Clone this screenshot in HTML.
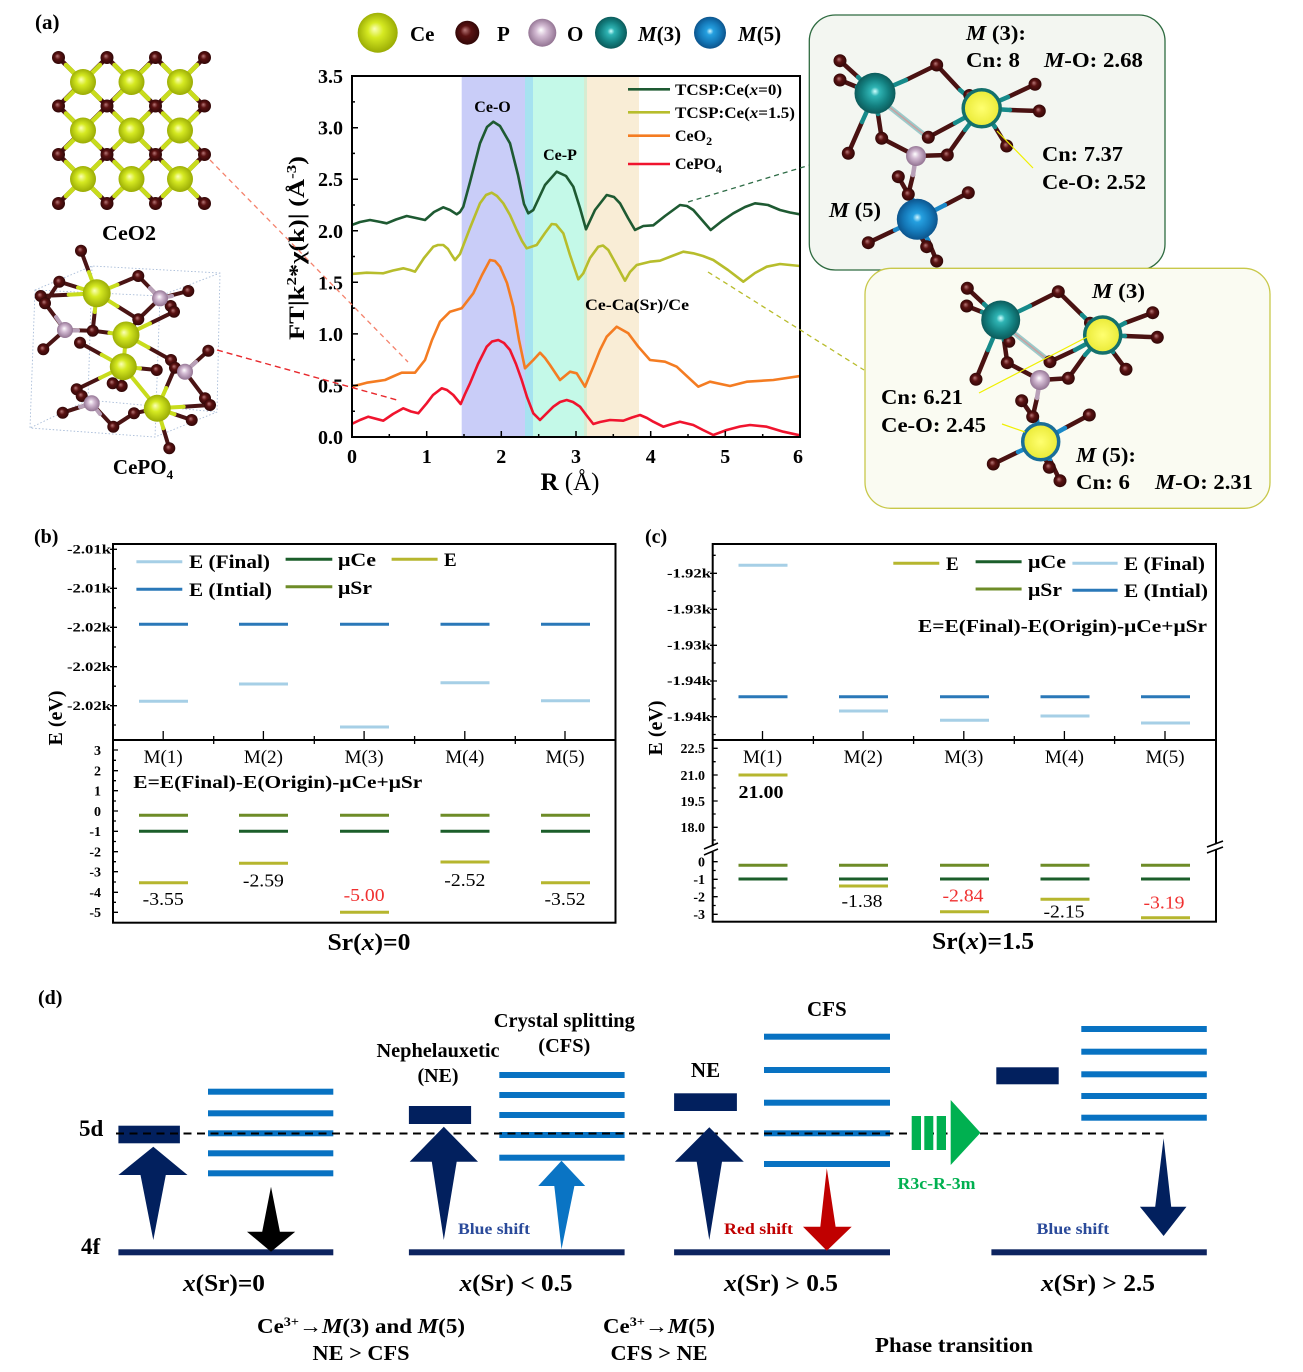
<!DOCTYPE html>
<html><head><meta charset="utf-8">
<style>
html,body{margin:0;padding:0;background:#fff}
svg{display:block}
text{font-family:"Liberation Serif","DejaVu Serif",serif}
</style></head>
<body>
<svg width="1303" height="1372" viewBox="0 0 1303 1372" xmlns="http://www.w3.org/2000/svg">
<defs>
 <radialGradient id="gCe" cx="0.5" cy="0.5" r="0.55" fx="0.42" fy="0.4">
  <stop offset="0" stop-color="#fbffb8"/><stop offset="0.35" stop-color="#d6ea22"/><stop offset="1" stop-color="#92a300"/>
 </radialGradient>
 <radialGradient id="gP" cx="0.5" cy="0.5" r="0.55" fx="0.4" fy="0.38">
  <stop offset="0" stop-color="#b87878"/><stop offset="0.4" stop-color="#5a1212"/><stop offset="1" stop-color="#2a0505"/>
 </radialGradient>
 <radialGradient id="gO" cx="0.5" cy="0.5" r="0.55" fx="0.45" fy="0.4">
  <stop offset="0" stop-color="#ffffff"/><stop offset="0.35" stop-color="#d4bcd4"/><stop offset="1" stop-color="#8a6a8a"/>
 </radialGradient>
 <radialGradient id="gM3" cx="0.5" cy="0.5" r="0.55" fx="0.5" fy="0.45">
  <stop offset="0" stop-color="#d0ffff"/><stop offset="0.2" stop-color="#2fb4b4"/><stop offset="0.6" stop-color="#138080"/><stop offset="1" stop-color="#0a5050"/>
 </radialGradient>
 <radialGradient id="gM5" cx="0.5" cy="0.5" r="0.55" fx="0.5" fy="0.45">
  <stop offset="0" stop-color="#d0f6ff"/><stop offset="0.2" stop-color="#25a0e0"/><stop offset="0.6" stop-color="#1478b8"/><stop offset="1" stop-color="#0a4a80"/>
 </radialGradient>
 <radialGradient id="gY" cx="0.5" cy="0.5" r="0.55">
  <stop offset="0" stop-color="#ffff70"/><stop offset="1" stop-color="#e8e830"/>
 </radialGradient>
 <clipPath id="plotclip"><rect x="352" y="76" width="448" height="361"/></clipPath>
</defs>

<!-- ============ PANEL (a) ============ -->
<text x="35" y="29" font-size="21" font-weight="bold">(a)</text>

<!-- CeO2 crystal -->
<g stroke-width="4.5" stroke-linecap="round">
 <g stroke="#4a1212">
  <path d="M58.5,57.5L204.5,203.5M107,57.5L204.5,155M155.5,57.5L204.5,106.5M58.5,106L156,203.5M58.5,154.5L107.5,203.5M204.5,57.5L58.5,203.5M155.5,57.5L58.5,154.5M107,57.5L58.5,106M204.5,106L107,203.5M204.5,154.5L155.5,203.5"/>
 </g>
 <g stroke="#c8dc1c">
  <path d="M66,65L100,99M100,65L66,99 M114.5,65L148.5,99M148.5,65L114.5,99 M163,65L197,99M197,65L163,99
  M66,113.5L100,147.5M100,113.5L66,147.5 M114.5,113.5L148.5,147.5M148.5,113.5L114.5,147.5 M163,113.5L197,147.5M197,113.5L163,147.5
  M66,162L100,196M100,162L66,196 M114.5,162L148.5,196M148.5,162L114.5,196 M163,162L197,196M197,162L163,196"/>
 </g>
</g>
<g fill="url(#gP)">
 <circle cx="58.5" cy="57.5" r="6.5"/><circle cx="107" cy="57.5" r="6.5"/><circle cx="155.5" cy="57.5" r="6.5"/><circle cx="204.5" cy="57.5" r="6.5"/>
 <circle cx="58.5" cy="106" r="6.5"/><circle cx="107" cy="106" r="6.5"/><circle cx="155.5" cy="106" r="6.5"/><circle cx="204.5" cy="106" r="6.5"/>
 <circle cx="58.5" cy="154.5" r="6.5"/><circle cx="107" cy="154.5" r="6.5"/><circle cx="155.5" cy="154.5" r="6.5"/><circle cx="204.5" cy="154.5" r="6.5"/>
 <circle cx="58.5" cy="203.5" r="6.5"/><circle cx="107" cy="203.5" r="6.5"/><circle cx="155.5" cy="203.5" r="6.5"/><circle cx="204.5" cy="203.5" r="6.5"/>
</g>
<g fill="url(#gCe)">
 <circle cx="83" cy="82" r="13"/><circle cx="131.5" cy="82" r="13"/><circle cx="180" cy="82" r="13"/>
 <circle cx="83" cy="130.5" r="13"/><circle cx="131.5" cy="130.5" r="13"/><circle cx="180" cy="130.5" r="13"/>
 <circle cx="83" cy="179" r="13"/><circle cx="131.5" cy="179" r="13"/><circle cx="180" cy="179" r="13"/>
</g>
<text x="129" y="240" font-size="21" font-weight="bold" text-anchor="middle" textLength="54" lengthAdjust="spacingAndGlyphs">CeO2</text>

<!-- CePO4 crystal -->
<g stroke="#a8bcd8" stroke-width="0.9" stroke-dasharray="1.5 2" fill="none">
 <path d="M35,290L92,266L220,273L217,412L155,437L30,428Z M35,290L160,296L155,437 M160,296L220,273 M92,266L88,400L30,428 M88,400L217,412"/>
</g>
<g stroke-width="4" stroke-linecap="round">
 <g stroke="#4a1414">
  <path d="M88.9,272L81,250.7M78,287.5L59.3,281.7M117.5,284.7L138.3,276M68.7,294.7L40.7,296M117.5,306.3L138.3,319.3M94.7,312L92.7,330.7
  M109.4,332.9L92.7,330.7M148.5,347.5L171,360M150,323.4L174,311.7M132.2,327.2L138.3,319.3
  M101.7,354.7L80,342.7M100,378L76.7,389.3M122.5,376.4L121.7,386M140,368.4L156.7,370
  M145.7,410.8L134,413.3M174.5,414.2L191.7,420M183.7,406.7L210,405M163.3,428.3L169.3,448.3M166.2,388L175,367.7
  M160,298.3L138.3,276M160,298.3L188.3,291M160,298.3L170.7,306M160,298.3L138.3,319.3
  M65,330L45,303.3M65,330L43.3,349.3M65,330L92.7,330.7M45,303.3L59.3,281.7
  M185,371.7L208.3,350.7M185,371.7L171,360M185,371.7L205,398.3M185,371.7L175,367.7
  M91.7,403.3L62.7,412.7M91.7,403.3L81.7,396M91.7,403.3L113.3,426.7M134,413.3L113.3,426.7M121.7,386L112.7,383.3M210,405L205,398.3"/>
 </g>
 <g stroke="#c8dc1c">
  <path d="M96.7,293.3L88.9,272M96.7,293.3L78,287.5M96.7,293.3L117.5,284.7M96.7,293.3L68.7,294.7M96.7,293.3L117.5,306.3M96.7,293.3L94.7,312
  M126,335L109.4,332.9M126,335L148.5,347.5M126,335L150,323.4M126,335L132.2,327.2M126,335L123.3,366.7
  M123.3,366.7L101.7,354.7M123.3,366.7L100,378M123.3,366.7L122.5,376.4M123.3,366.7L140,368.4M123.3,366.7L157.3,408.3
  M157.3,408.3L145.7,410.8M157.3,408.3L174.5,414.2M157.3,408.3L183.7,406.7M157.3,408.3L163.3,428.3M157.3,408.3L166.2,388"/>
 </g>
 <g stroke="#b8a0b8">
  <path d="M160,298.3L150,288M160,298.3L172,296M65,330L56,317M65,330L78,330.5M185,371.7L196,362M185,371.7L178,366M91.7,403.3L80,407M91.7,403.3L100,414"/>
 </g>
</g>
<g fill="url(#gP)">
 <circle cx="81" cy="250.7" r="6"/><circle cx="59.3" cy="281.7" r="6"/><circle cx="40.7" cy="296" r="6"/><circle cx="45" cy="303.3" r="6"/>
 <circle cx="138.3" cy="276" r="6"/><circle cx="188.3" cy="291" r="6"/><circle cx="170.7" cy="306" r="6"/><circle cx="174" cy="311.7" r="6"/>
 <circle cx="138.3" cy="319.3" r="6"/><circle cx="92.7" cy="330.7" r="6"/><circle cx="80" cy="342.7" r="6"/><circle cx="43.3" cy="349.3" r="6"/>
 <circle cx="208.3" cy="350.7" r="6"/><circle cx="171" cy="360" r="6"/><circle cx="175" cy="367.7" r="6"/><circle cx="156.7" cy="370" r="6"/>
 <circle cx="121.7" cy="386" r="6"/><circle cx="76.7" cy="389.3" r="6"/><circle cx="81.7" cy="396" r="6"/><circle cx="112.7" cy="383.3" r="6"/>
 <circle cx="62.7" cy="412.7" r="6"/><circle cx="205" cy="398.3" r="6"/><circle cx="210" cy="405" r="6"/><circle cx="191.7" cy="420" r="6"/>
 <circle cx="134" cy="413.3" r="6"/><circle cx="113.3" cy="426.7" r="6"/><circle cx="169.3" cy="448.3" r="6"/>
</g>
<g fill="url(#gO)">
 <circle cx="160" cy="298.3" r="8"/><circle cx="65" cy="330" r="8"/><circle cx="185" cy="371.7" r="8"/><circle cx="91.7" cy="403.3" r="8"/>
</g>
<g fill="url(#gCe)">
 <circle cx="96.7" cy="293.3" r="14"/><circle cx="126" cy="335" r="13.5"/><circle cx="123.3" cy="366.7" r="13.5"/><circle cx="157.3" cy="408.3" r="13.5"/>
</g>
<text x="143" y="474" font-size="21" font-weight="bold" text-anchor="middle">CePO<tspan font-size="13" dy="5">4</tspan></text>

<!-- top atom legend -->
<circle cx="377.7" cy="32.7" r="20" fill="url(#gCe)"/>
<text x="410" y="41" font-size="21" font-weight="bold">Ce</text>
<circle cx="467.3" cy="32.7" r="12" fill="url(#gP)"/>
<text x="497" y="41" font-size="21" font-weight="bold">P</text>
<circle cx="542.3" cy="32.7" r="14" fill="url(#gO)"/>
<text x="567" y="41" font-size="21" font-weight="bold">O</text>
<circle cx="611" cy="32.7" r="16" fill="url(#gM3)"/>
<text x="638" y="41" font-size="21" font-weight="bold"><tspan font-style="italic">M</tspan>(3)</text>
<circle cx="710" cy="32.7" r="16" fill="url(#gM5)"/>
<text x="738" y="41" font-size="21" font-weight="bold"><tspan font-style="italic">M</tspan>(5)</text>

<!-- plot bands -->
<rect x="461.7" y="76" width="63.3" height="361" fill="#c9cdf8"/>
<rect x="525" y="76" width="8" height="361" fill="#a6e2f0"/>
<rect x="533" y="76" width="51" height="361" fill="#c4f9e8"/>
<rect x="584" y="76" width="3" height="361" fill="#d6ecd2"/>
<rect x="587" y="76" width="52" height="361" fill="#f9edd6"/>

<g clip-path="url(#plotclip)" fill="none" stroke-width="2.6" stroke-linejoin="round" stroke-linecap="round">
 <polyline stroke="#1e5a32" points="351.7,225 360,222 370,220 378,221.5 386.7,223.3 396,219.5 406.7,216 416,218 425,220 434,212 443.3,207.3 450,210 456.7,214.3 460,212 463.3,206.7 470,182 480,143.3 487,127 493.3,121.7 500,126 510,143.3 518,175 524,204 528.3,213.3 533.3,210 545,185 556.7,171.7 566,176 573.3,186.7 580,208 586,229.3 595,210 606.7,195 614,197 620,203.3 628,218 635,230 643.3,226 653.3,225.3 665,216 680,205 687,206 693.3,210 702,220 710.7,230 722,221 733.3,213.3 745,207 755,203.3 768,205 780,210 790,212.5 800,214.3"/>
 <polyline stroke="#b7bd2c" points="351.7,274 366.7,272.7 383.3,273.3 393,270.5 403.3,268.3 410,270 415,271.7 424,258 433.3,246.7 438,245 443.3,245 448,249 451.7,255 455,260 460,254 470,228 480,203.3 486,195 491.7,192.7 497,196 503.3,203.3 510,215 516.7,230 522,241 526.7,248.3 536.7,245 545,233 551.7,224 556,224.5 563.3,233.3 570,255 578.3,279.3 583.3,273.3 590,258 598.3,246.7 603,245.5 608.3,250 616,264 625,280.7 630,272 636.7,265 650,261.7 660,260.7 672,256 683.3,251.7 693.3,253.3 703,256 713.3,260 728,270 743.3,281.7 755,273 766.7,266.7 780,264 800,266"/>
 <polyline stroke="#f47c22" points="351.7,386.7 366.7,382.7 385,380 394,376 401.7,372.7 415,372.7 425,360 432,340 440,321.7 450,311.7 461.7,308.3 473.3,293.3 482,275 490,260 495,261 500,266.7 507,283 513.3,306.7 519,340 525,368.3 533.3,360 540,352.7 545,358 550,365 560,380 570,371.7 576.7,373.3 585,386.7 593.3,366.7 600,350 606.7,336.7 616.7,326.7 628.3,333.3 638.3,346.7 650,360 665,361.7 676.7,366.7 698.3,386.7 710,381.7 730,386 746.7,381.7 773.3,380 800,376"/>
 <polyline stroke="#f0142e" points="351.7,424 360,420 368.3,416.7 383.3,420.7 393,414 403.3,408.3 411,411.5 418.3,413.3 426.7,403.3 433,395 441.7,388.3 447,390 453.3,395 460.7,404 465,394 470,383.3 478,364 486.7,346.7 492,341.5 498.3,340 504,343 510,350 516,364 521.7,380 527,397 533.3,413.3 540,420 553.3,406.7 560,402 566.7,400 573,402 580,406.7 587,416 593.3,424 600,422 610,420 623.3,420.7 632,417.5 640,415 647,418 653.3,421.7 663.3,426.7 672,424 680,421.7 693.3,425 703,430 713.3,435 726.7,430 740,426.5 750,425 766.7,426.7 783.3,431.7 800,435.3"/>
</g>

<!-- frame & ticks -->
<rect x="352" y="76" width="448" height="361" fill="none" stroke="#000" stroke-width="2"/>
<g stroke="#000" stroke-width="1.5">
 <path d="M352,385.4h6M352,333.9h6M352,282.3h6M352,230.8h6M352,179.2h6M352,127.7h6
 M352,411.2h3M352,359.6h3M352,308.1h3M352,256.5h3M352,205h3M352,153.4h3M352,101.9h3
 M426.7,437v-6M501.3,437v-6M576,437v-6M650.7,437v-6M725.3,437v-6
 M389.3,437v-3M464,437v-3M538.7,437v-3M613.3,437v-3M688,437v-3M762.7,437v-3"/>
</g>
<g font-size="20" font-weight="bold" text-anchor="end">
 <text x="343" y="444">0.0</text><text x="343" y="392.4">0.5</text><text x="343" y="341">1.0</text><text x="343" y="289.3">1.5</text>
 <text x="343" y="237.8">2.0</text><text x="343" y="186.2">2.5</text><text x="343" y="134.7">3.0</text><text x="343" y="83.1">3.5</text>
</g>
<g font-size="20" font-weight="bold" text-anchor="middle">
 <text x="352" y="463">0</text><text x="426.7" y="463">1</text><text x="501.3" y="463">2</text><text x="576" y="463">3</text>
 <text x="650.7" y="463">4</text><text x="725.3" y="463">5</text><text x="798" y="463">6</text>
</g>
<text x="570" y="490" font-size="25" text-anchor="middle"><tspan font-weight="bold">R</tspan> (Å)</text>
<text transform="translate(304,248) rotate(-90)" font-size="22" font-weight="bold" text-anchor="middle" textLength="184" lengthAdjust="spacingAndGlyphs">FT|k<tspan font-size="14" dy="-8">2</tspan><tspan dy="8">*χ(k)| (Å</tspan><tspan font-size="14" dy="-8">-3</tspan><tspan dy="8">)</tspan></text>

<g font-size="16" font-weight="bold">
 <text x="492.5" y="112" text-anchor="middle">Ce-O</text>
 <text x="560" y="160" text-anchor="middle">Ce-P</text>
 <text x="637" y="310" text-anchor="middle" textLength="104" lengthAdjust="spacingAndGlyphs">Ce-Ca(Sr)/Ce</text>
</g>
<!-- legend -->
<g stroke-width="2.6">
 <line x1="628" y1="89.3" x2="670" y2="89.3" stroke="#1e5a32"/>
 <line x1="628" y1="112.3" x2="670" y2="112.3" stroke="#b7bd2c"/>
 <line x1="628" y1="135.7" x2="670" y2="135.7" stroke="#f47c22"/>
 <line x1="628" y1="164" x2="670" y2="164" stroke="#f0142e"/>
</g>
<g font-size="16" font-weight="bold">
 <text x="675" y="95" textLength="107" lengthAdjust="spacingAndGlyphs">TCSP:Ce(<tspan font-style="italic">x</tspan>=0)</text>
 <text x="675" y="118" textLength="120" lengthAdjust="spacingAndGlyphs">TCSP:Ce(<tspan font-style="italic">x</tspan>=1.5)</text>
 <text x="675" y="141">CeO<tspan font-size="12" dy="4">2</tspan></text>
 <text x="675" y="169">CePO<tspan font-size="12" dy="4">4</tspan></text>
</g>

<!-- connectors -->
<line x1="210" y1="160" x2="408" y2="362" stroke="#f4826c" stroke-width="1.3" stroke-dasharray="5 4"/>
<line x1="217" y1="350" x2="397" y2="400" stroke="#e8282c" stroke-width="1.4" stroke-dasharray="6 4"/>
<line x1="688" y1="202" x2="810" y2="165" stroke="#2d6b45" stroke-width="1.3" stroke-dasharray="5 4"/>
<line x1="708" y1="272" x2="864" y2="370" stroke="#b8bc2c" stroke-width="1.3" stroke-dasharray="5 4"/>

<!-- inset 1 -->
<rect x="809.3" y="15" width="355.7" height="255" rx="26" fill="#f3f6f1" stroke="#2e6b40" stroke-width="1.3"/>
<g stroke-width="4.5" stroke-linecap="round">
 <g stroke="#4a1212">
  <path d="M840,60.7L858,77M840,80L857,87M936.7,65L906,80M848.3,153.3L862,122M881.7,138.3L878,114M936.7,65L960,90M1035,84.3L1008,97M1039.3,111L1010,110M928.3,137.3L955,123M947.3,155L965,130M1006.7,146L995,127M881.7,138.3L916,156M947.3,155L916,156M898.3,176.7L908.3,194.3M908.3,194.3L913,175M968.3,192.7L945,205M868.3,242.7L895,230M926.7,246.7L920,235M936.7,261L928,240"/>
 </g>
 <g stroke="#168a8a">
  <path d="M875,93.3L858,77M875,93.3L857,87M875,93.3L906,80M875,93.3L862,122M875,93.3L878,114M981.7,108.3L960,90M981.7,108.3L1008,97M981.7,108.3L1010,110M981.7,108.3L955,123M981.7,108.3L965,130M981.7,108.3L995,127"/>
 </g>
 <g stroke="#1a88c8">
  <path d="M917.3,219.3L945,205M917.3,219.3L895,230M917.3,219.3L920,235M917.3,219.3L928,240M917.3,219.3L913,200"/>
 </g>
 <g stroke="#b8a0b8"><path d="M916,156L913,175"/></g>
</g>
<line x1="878" y1="98" x2="926" y2="136" stroke="#9ccaca" stroke-width="5"/>
<line x1="878" y1="98" x2="926" y2="136" stroke="#c8a0a0" stroke-width="1.5"/>
<g fill="url(#gP)">
 <circle cx="840" cy="60.7" r="6.5"/><circle cx="840" cy="80" r="6.5"/><circle cx="936.7" cy="65" r="6.5"/><circle cx="1035" cy="84.3" r="6.5"/>
 <circle cx="1039.3" cy="111" r="6.5"/><circle cx="848.3" cy="153.3" r="6.5"/><circle cx="881.7" cy="138.3" r="6.5"/><circle cx="928.3" cy="137.3" r="6.5"/>
 <circle cx="947.3" cy="155" r="6.5"/><circle cx="1006.7" cy="146" r="6.5"/><circle cx="898.3" cy="176.7" r="6.5"/><circle cx="908.3" cy="194.3" r="6.5"/>
 <circle cx="968.3" cy="192.7" r="6.5"/><circle cx="868.3" cy="242.7" r="6.5"/><circle cx="926.7" cy="246.7" r="6.5"/><circle cx="936.7" cy="261" r="6.5"/>
 <circle cx="969.3" cy="95" r="6"/>
</g>
<circle cx="875" cy="93.3" r="20.5" fill="url(#gM3)"/>
<circle cx="981.7" cy="108.3" r="18.5" fill="url(#gY)" stroke="#14706c" stroke-width="3.5"/>
<circle cx="916" cy="156" r="10" fill="url(#gO)"/>
<circle cx="917.3" cy="219.3" r="20.5" fill="url(#gM5)"/>
<line x1="997" y1="131" x2="1033" y2="168" stroke="#f0f000" stroke-width="1.2"/>
<g font-size="21" font-weight="bold">
 <text x="966" y="40" textLength="60" lengthAdjust="spacingAndGlyphs"><tspan font-style="italic">M</tspan> (3):</text>
 <text x="966" y="67" textLength="54" lengthAdjust="spacingAndGlyphs">Cn: 8</text>
 <text x="1044" y="67" textLength="99" lengthAdjust="spacingAndGlyphs"><tspan font-style="italic">M</tspan>-O: 2.68</text>
 <text x="1042" y="161" textLength="81" lengthAdjust="spacingAndGlyphs">Cn: 7.37</text>
 <text x="1042" y="189" textLength="104" lengthAdjust="spacingAndGlyphs">Ce-O: 2.52</text>
 <text x="829" y="217" textLength="52" lengthAdjust="spacingAndGlyphs"><tspan font-style="italic">M</tspan> (5)</text>
</g>

<!-- inset 2 -->
<rect x="865" y="268.3" width="405" height="240" rx="26" fill="#fafbf2" stroke="#c8c84a" stroke-width="1.3"/>
<g stroke-width="4.5" stroke-linecap="round">
 <g stroke="#4a1212">
  <path d="M967.3,288.3L984,304M966.7,306L982,312M1058.3,291.7L1030,306M1058.3,291.7L1082,315M1152.7,312.7L1125,323M1157.3,337.3L1125,336M1007.3,362.7L1004,340M976,379.3L988,350M1050,361.7L1075,350M1068.3,378.3L1085,355M1126,369.3L1113,352M1068.3,378.3L1040,380M1007.3,362.7L1040,380M1021.7,400.7L1032.7,416.7M1032.7,416.7L1037,398M1089.3,415L1065,428M993.3,464L1018,452M1049.3,467.3L1045,458M1060,480.7L1050,460"/>
 </g>
 <g stroke="#168a8a">
  <path d="M1000.7,320L984,304M1000.7,320L982,312M1000.7,320L1030,306M1000.7,320L988,350M1000.7,320L1004,340M1102.7,335L1082,315M1102.7,335L1125,323M1102.7,335L1125,336M1102.7,335L1075,350M1102.7,335L1085,355M1102.7,335L1113,352"/>
 </g>
 <g stroke="#1a88c8">
  <path d="M1040.7,441.7L1065,428M1040.7,441.7L1018,452M1040.7,441.7L1045,458M1040.7,441.7L1050,460M1040.7,441.7L1037,420"/>
 </g>
 <g stroke="#b8a0b8"><path d="M1040,380L1037,398"/></g>
</g>
<line x1="1004" y1="325" x2="1048" y2="360" stroke="#9ccaca" stroke-width="5"/>
<line x1="1004" y1="325" x2="1048" y2="360" stroke="#c8a0a0" stroke-width="1.5"/>
<g fill="url(#gP)">
 <circle cx="967.3" cy="288.3" r="6.5"/><circle cx="966.7" cy="306" r="6.5"/><circle cx="1058.3" cy="291.7" r="6.5"/><circle cx="1152.7" cy="312.7" r="6.5"/>
 <circle cx="1157.3" cy="337.3" r="6.5"/><circle cx="1007.3" cy="362.7" r="6.5"/><circle cx="1050" cy="361.7" r="6.5"/><circle cx="976" cy="379.3" r="6.5"/>
 <circle cx="1068.3" cy="378.3" r="6.5"/><circle cx="1126" cy="369.3" r="6.5"/><circle cx="1021.7" cy="400.7" r="6.5"/><circle cx="1032.7" cy="416.7" r="6.5"/>
 <circle cx="1089.3" cy="415" r="6.5"/><circle cx="993.3" cy="464" r="6.5"/><circle cx="1049.3" cy="467.3" r="6.5"/><circle cx="1060" cy="480.7" r="6.5"/>
 <circle cx="1090" cy="322.7" r="6"/><circle cx="1009.3" cy="341.7" r="6"/>
</g>
<circle cx="1000.7" cy="320" r="19.5" fill="url(#gM3)"/>
<circle cx="1102.7" cy="335" r="18" fill="url(#gY)" stroke="#14706c" stroke-width="3.5"/>
<circle cx="1040" cy="380" r="10" fill="url(#gO)"/>
<circle cx="1040.7" cy="441.7" r="18" fill="url(#gY)" stroke="#1a6e98" stroke-width="3.5"/>
<line x1="979" y1="393" x2="1087" y2="337" stroke="#f0f000" stroke-width="1.2"/>
<line x1="1002" y1="424" x2="1025" y2="432" stroke="#f0f000" stroke-width="1.2"/>
<g font-size="21" font-weight="bold">
 <text x="1092" y="298" textLength="53" lengthAdjust="spacingAndGlyphs"><tspan font-style="italic">M</tspan> (3)</text>
 <text x="881" y="404" textLength="82" lengthAdjust="spacingAndGlyphs">Cn: 6.21</text>
 <text x="881" y="432" textLength="105" lengthAdjust="spacingAndGlyphs">Ce-O: 2.45</text>
 <text x="1076" y="462" textLength="60" lengthAdjust="spacingAndGlyphs"><tspan font-style="italic">M</tspan> (5):</text>
 <text x="1076" y="489" textLength="54" lengthAdjust="spacingAndGlyphs">Cn: 6</text>
 <text x="1155" y="489" textLength="98" lengthAdjust="spacingAndGlyphs"><tspan font-style="italic">M</tspan>-O: 2.31</text>
</g>

<!-- ============ PANEL (b) ============ -->
<text x="34" y="543" font-size="20" font-weight="bold">(b)</text>
<rect x="113" y="544" width="502.5" height="378.7" fill="none" stroke="#000" stroke-width="2"/>
<line x1="113" y1="740" x2="615.5" y2="740" stroke="#000" stroke-width="2"/>
<g stroke="#000" stroke-width="1.3">
 <path d="M110,549.3h7M110,588.3h7M110,627.3h7M110,666.7h7M110,705.7h7M113,568.8h3M113,607.8h3M113,647h3M113,686.2h3M113,725h3
 M113,750h5M113,770.7h5M113,790.7h5M113,811h5M113,831.3h5M113,851.7h5M113,871.7h5M113,892.3h5M113,912.3h5
 M113,760.3h3M113,780.7h3M113,801h3M113,821h3M113,841.5h3M113,861.7h3M113,882h3M113,902.3h3
 M163.2,740v-9M263.4,740v-9M364.1,740v-9M464.8,740v-9M565,740v-9
 M213.7,736v8M314.3,736v8M414.6,736v8M515.3,736v8"/>
</g>
<g font-size="13" font-weight="bold" text-anchor="end">
 <text x="111" y="553.5" textLength="44" lengthAdjust="spacingAndGlyphs">-2.01k</text>
 <text x="111" y="592.5" textLength="44" lengthAdjust="spacingAndGlyphs">-2.01k</text>
 <text x="111" y="631.5" textLength="44" lengthAdjust="spacingAndGlyphs">-2.02k</text>
 <text x="111" y="671" textLength="44" lengthAdjust="spacingAndGlyphs">-2.02k</text>
 <text x="111" y="710" textLength="44" lengthAdjust="spacingAndGlyphs">-2.02k</text>
</g>
<g font-size="14" font-weight="bold" text-anchor="end">
 <text x="101" y="755">3</text><text x="101" y="775.5">2</text><text x="101" y="795.5">1</text><text x="101" y="816">0</text>
 <text x="101" y="836">-1</text><text x="101" y="856.5">-2</text><text x="101" y="876.5">-3</text><text x="101" y="897">-4</text><text x="101" y="917">-5</text>
</g>
<text transform="translate(62,718) rotate(-90)" font-size="20" font-weight="bold" text-anchor="middle">E (eV)</text>
<g font-size="19" text-anchor="middle">
 <text x="163.2" y="763">M(1)</text><text x="263.4" y="763">M(2)</text><text x="364.1" y="763">M(3)</text><text x="464.8" y="763">M(4)</text><text x="565" y="763">M(5)</text>
</g>
<!-- legend b -->
<g stroke-width="3">
 <line x1="136.4" y1="561.7" x2="182.3" y2="561.7" stroke="#a6cfe6"/>
 <line x1="136.4" y1="589.3" x2="182.3" y2="589.3" stroke="#2a78b8"/>
 <line x1="285.6" y1="559.3" x2="332.3" y2="559.3" stroke="#1b5e2a"/>
 <line x1="285.6" y1="586.7" x2="332.3" y2="586.7" stroke="#6e8c28"/>
 <line x1="391.6" y1="559.3" x2="437.6" y2="559.3" stroke="#b6b62e"/>
</g>
<g font-size="19" font-weight="bold">
 <text x="189" y="568" textLength="81" lengthAdjust="spacingAndGlyphs">E (Final)</text>
 <text x="189" y="596" textLength="83" lengthAdjust="spacingAndGlyphs">E (Intial)</text>
 <text x="338" y="566" textLength="38" lengthAdjust="spacingAndGlyphs">μCe</text>
 <text x="338" y="594" textLength="34" lengthAdjust="spacingAndGlyphs">μSr</text>
 <text x="444" y="566">E</text>
</g>
<text x="133.3" y="788" font-size="18" font-weight="bold" textLength="289" lengthAdjust="spacingAndGlyphs">E=E(Final)-E(Origin)-μCe+μSr</text>
<g stroke-width="3">
 <g stroke="#2a78b8"><path d="M139,624.3h49M239,624.3h49M340,624.3h49M440.5,624.3h49M541,624.3h49"/></g>
 <g stroke="#a6cfe6"><path d="M139,701.3h49M239,684h49M340,727h49M440.5,682.7h49M541,700.7h49"/></g>
 <g stroke="#6e8c28"><path d="M139,815.3h49M239,815.3h49M340,815.3h49M440.5,815.3h49M541,815.3h49"/></g>
 <g stroke="#1b5e2a"><path d="M139,831.3h49M239,831.3h49M340,831.3h49M440.5,831.3h49M541,831.3h49"/></g>
 <g stroke="#b6b62e"><path d="M139,882.7h49M239,863.3h49M340,912.3h49M440.5,862h49M541,882.7h49"/></g>
</g>
<g font-size="18" text-anchor="middle">
 <text x="163.2" y="905" textLength="41" lengthAdjust="spacingAndGlyphs">-3.55</text>
 <text x="263.4" y="886.5" textLength="41" lengthAdjust="spacingAndGlyphs">-2.59</text>
 <text x="364.1" y="901" fill="#f03030" textLength="41" lengthAdjust="spacingAndGlyphs">-5.00</text>
 <text x="464.8" y="886" textLength="41" lengthAdjust="spacingAndGlyphs">-2.52</text>
 <text x="565" y="905" textLength="41" lengthAdjust="spacingAndGlyphs">-3.52</text>
</g>
<text x="369" y="950" font-size="24" font-weight="bold" text-anchor="middle" textLength="83" lengthAdjust="spacingAndGlyphs">Sr(<tspan font-style="italic">x</tspan>)=0</text>

<!-- ============ PANEL (c) ============ -->
<text x="645" y="543" font-size="20" font-weight="bold">(c)</text>
<rect x="712.7" y="544" width="503.3" height="377.7" fill="none" stroke="#000" stroke-width="2"/>
<line x1="712.7" y1="740" x2="1216" y2="740" stroke="#000" stroke-width="2"/>
<g stroke="#000" stroke-width="1.3">
 <path d="M710,573.3h7M710,609.3h7M710,645.3h7M710,681h7M710,716.7h7M712.7,555.3h3M712.7,591.3h3M712.7,627.3h3M712.7,663h3M712.7,699h3M712.7,734.5h3
 M712.7,748.3h5M712.7,775h5M712.7,801h5M712.7,827.3h5M712.7,761.7h3M712.7,788h3M712.7,814h3M712.7,840h3
 M712.7,861.7h5M712.7,879.3h5M712.7,896.7h5M712.7,914.3h5M712.7,870.5h3M712.7,888h3M712.7,905.5h3
 M762.5,740v-9M863.1,740v-9M963.8,740v-9M1064.4,740v-9M1165,740v-9
 M813.4,736v8M913.6,736v8M1014.3,736v8M1114.6,736v8"/>
</g>
<!-- axis breaks -->
<rect x="705" y="846" width="15" height="6" fill="#fff"/>
<rect x="1208" y="843" width="16" height="6" fill="#fff"/>
<g stroke="#000" stroke-width="1.5">
 <path d="M704,849L718,843M704,855L718,849M1207,847L1223,841M1207,853L1223,847"/>
</g>
<g font-size="13" font-weight="bold" text-anchor="end">
 <text x="711" y="577.5" textLength="44" lengthAdjust="spacingAndGlyphs">-1.92k</text>
 <text x="711" y="613.5" textLength="44" lengthAdjust="spacingAndGlyphs">-1.93k</text>
 <text x="711" y="649.5" textLength="44" lengthAdjust="spacingAndGlyphs">-1.93k</text>
 <text x="711" y="685" textLength="44" lengthAdjust="spacingAndGlyphs">-1.94k</text>
 <text x="711" y="721" textLength="44" lengthAdjust="spacingAndGlyphs">-1.94k</text>
</g>
<g font-size="14" font-weight="bold" text-anchor="end">
 <text x="705" y="753">22.5</text><text x="705" y="780">21.0</text><text x="705" y="806">19.5</text><text x="705" y="832">18.0</text>
 <text x="705" y="866.5">0</text><text x="705" y="884">-1</text><text x="705" y="901.5">-2</text><text x="705" y="919">-3</text>
</g>
<text transform="translate(662,728) rotate(-90)" font-size="20" font-weight="bold" text-anchor="middle">E (eV)</text>
<g font-size="19" text-anchor="middle">
 <text x="762.5" y="763">M(1)</text><text x="863.1" y="763">M(2)</text><text x="963.8" y="763">M(3)</text><text x="1064.4" y="763">M(4)</text><text x="1165" y="763">M(5)</text>
</g>
<g stroke-width="3">
 <line x1="893.3" y1="563.3" x2="939.3" y2="563.3" stroke="#b6b62e"/>
 <line x1="975.6" y1="561.7" x2="1021.6" y2="561.7" stroke="#1b5e2a"/>
 <line x1="1072.4" y1="563.3" x2="1117.6" y2="563.3" stroke="#a6cfe6"/>
 <line x1="975.6" y1="589" x2="1021.6" y2="589" stroke="#6e8c28"/>
 <line x1="1072.4" y1="590.3" x2="1117.6" y2="590.3" stroke="#2a78b8"/>
</g>
<g font-size="19" font-weight="bold">
 <text x="946" y="570">E</text>
 <text x="1028" y="568" textLength="38" lengthAdjust="spacingAndGlyphs">μCe</text>
 <text x="1124" y="570" textLength="81" lengthAdjust="spacingAndGlyphs">E (Final)</text>
 <text x="1028" y="596" textLength="34" lengthAdjust="spacingAndGlyphs">μSr</text>
 <text x="1124" y="597" textLength="84" lengthAdjust="spacingAndGlyphs">E (Intial)</text>
</g>
<text x="918" y="632" font-size="18" font-weight="bold" textLength="289" lengthAdjust="spacingAndGlyphs">E=E(Final)-E(Origin)-μCe+μSr</text>
<g stroke-width="3">
 <g stroke="#2a78b8"><path d="M738.5,696.7h49M839,696.7h49M940,696.7h49M1040.5,696.7h49M1141,696.7h49"/></g>
 <g stroke="#a6cfe6"><path d="M738.5,565.3h49M839,711h49M940,720.3h49M1040.5,716h49M1141,723h49"/></g>
 <g stroke="#6e8c28"><path d="M738.5,865.3h49M839,865.3h49M940,865.3h49M1040.5,865.3h49M1141,865.3h49"/></g>
 <g stroke="#1b5e2a"><path d="M738.5,879h49M839,879h49M940,879h49M1040.5,879h49M1141,879h49"/></g>
 <g stroke="#b6b62e"><path d="M738.5,775h49M839,886h49M940,911.7h49M1040.5,899.3h49M1141,917.7h49"/></g>
</g>
<g font-size="18" text-anchor="middle">
 <text x="761" y="798" font-weight="bold" textLength="45" lengthAdjust="spacingAndGlyphs">21.00</text>
 <text x="862" y="907" textLength="41" lengthAdjust="spacingAndGlyphs">-1.38</text>
 <text x="963" y="901.5" fill="#f03030" textLength="41" lengthAdjust="spacingAndGlyphs">-2.84</text>
 <text x="1064" y="917.5" textLength="41" lengthAdjust="spacingAndGlyphs">-2.15</text>
 <text x="1164" y="908.5" fill="#f03030" textLength="41" lengthAdjust="spacingAndGlyphs">-3.19</text>
</g>
<text x="983" y="949" font-size="24" font-weight="bold" text-anchor="middle" textLength="102" lengthAdjust="spacingAndGlyphs">Sr(<tspan font-style="italic">x</tspan>)=1.5</text>

<!-- ============ PANEL (d) ============ -->
<text x="38" y="1004" font-size="20" font-weight="bold">(d)</text>
<text x="79" y="1136" font-size="23" font-weight="bold">5d</text>
<text x="81" y="1254" font-size="23" font-weight="bold">4f</text>

<!-- 4f lines -->
<g fill="#0d2460">
 <rect x="118.4" y="1249.3" width="214.9" height="6"/>
 <rect x="408.9" y="1249.3" width="215.7" height="6"/>
 <rect x="674.1" y="1249.3" width="215.9" height="6"/>
 <rect x="991.4" y="1249.3" width="215.4" height="6"/>
</g>
<!-- NE rects -->
<g fill="#02205e">
 <rect x="118.4" y="1125.7" width="61.5" height="17.6"/>
 <rect x="408.9" y="1106" width="62.2" height="18"/>
 <rect x="674.1" y="1093.3" width="62.8" height="17.7"/>
 <rect x="996.3" y="1067.3" width="62.4" height="17"/>
</g>
<!-- CFS lines -->
<g fill="#0872c2">
 <rect x="208" y="1088.7" width="125.3" height="6"/><rect x="208" y="1110.3" width="125.3" height="6"/><rect x="208" y="1130.3" width="125.3" height="6"/><rect x="208" y="1150.3" width="125.3" height="6"/><rect x="208" y="1170.3" width="125.3" height="6"/>
 <rect x="499.3" y="1072" width="125.3" height="6"/><rect x="499.3" y="1092" width="125.3" height="6"/><rect x="499.3" y="1112" width="125.3" height="6"/><rect x="499.3" y="1132" width="125.3" height="6"/><rect x="499.3" y="1154.7" width="125.3" height="6"/>
 <rect x="764" y="1033.7" width="126" height="6"/><rect x="764" y="1067" width="126" height="6"/><rect x="764" y="1099.7" width="126" height="6"/><rect x="764" y="1130.3" width="126" height="6"/><rect x="764" y="1161" width="126" height="6"/>
 <rect x="1081.3" y="1026" width="125.5" height="6"/><rect x="1081.3" y="1048.7" width="125.5" height="6"/><rect x="1081.3" y="1071.3" width="125.5" height="6"/><rect x="1081.3" y="1093" width="125.5" height="6"/><rect x="1081.3" y="1114.7" width="125.5" height="6"/>
</g>
<!-- dashed 5d reference -->
<line x1="116" y1="1133.5" x2="1165" y2="1133.5" stroke="#000" stroke-width="2" stroke-dasharray="8 5.5"/>

<!-- arrows -->
<g fill="#02205e">
 <polygon points="153.3,1146.7 187.5,1175 165.8,1175 153.3,1240 140.5,1175 118.4,1175"/>
 <polygon points="443.8,1126.7 478,1161.7 456.7,1161.7 443.8,1240 431.8,1161.7 409.7,1161.7"/>
 <polygon points="709.3,1127.3 743.8,1161.7 722,1161.7 709.3,1240 696.7,1161.7 674.9,1161.7"/>
 <polygon points="1163.6,1138.3 1171.2,1206.7 1186.5,1206.7 1163.6,1236 1139.9,1206.7 1155.2,1206.7"/>
</g>
<polygon points="271,1186.7 279.9,1231.7 295.2,1231.7 271,1251.7 247,1231.7 262.2,1231.7" fill="#000"/>
<polygon points="561.5,1160.7 585.2,1186 574.4,1186 561.5,1249.3 554.3,1186 538.2,1186" fill="#0a74c4"/>
<polygon points="826.8,1168.3 835.6,1226.7 851.7,1226.7 826.8,1250.7 803,1226.7 820.3,1226.7" fill="#c00000"/>

<!-- green phase transition arrow -->
<g fill="#00b050">
 <rect x="911.7" y="1116" width="9.3" height="34"/>
 <rect x="924.3" y="1116" width="9" height="34"/>
 <rect x="936.7" y="1116" width="9.3" height="34"/>
 <polygon points="950.7,1100 980.5,1132.7 950.7,1165"/>
</g>
<text x="936.5" y="1189" font-size="17" font-weight="bold" fill="#00b050" text-anchor="middle" textLength="78" lengthAdjust="spacingAndGlyphs">R3c-R-3m</text>

<g font-size="16" font-weight="bold">
 <text x="458" y="1234" fill="#2a4a9a" textLength="72" lengthAdjust="spacingAndGlyphs">Blue shift</text>
 <text x="724" y="1234" fill="#c00000" textLength="69" lengthAdjust="spacingAndGlyphs">Red shift</text>
 <text x="1036.5" y="1234" fill="#2a4a9a" textLength="72.7" lengthAdjust="spacingAndGlyphs">Blue shift</text>
</g>

<g font-size="20" font-weight="bold" text-anchor="middle">
 <text x="438" y="1057" textLength="123" lengthAdjust="spacingAndGlyphs">Nephelauxetic</text>
 <text x="438" y="1082" textLength="41" lengthAdjust="spacingAndGlyphs">(NE)</text>
 <text x="564.3" y="1027" textLength="141" lengthAdjust="spacingAndGlyphs">Crystal splitting</text>
 <text x="564.3" y="1052" textLength="52" lengthAdjust="spacingAndGlyphs">(CFS)</text>
</g>
<g font-size="21" font-weight="bold" text-anchor="middle">
 <text x="705.5" y="1077">NE</text>
 <text x="826.8" y="1016">CFS</text>
</g>

<g font-size="24" font-weight="bold" text-anchor="middle">
 <text x="224" y="1291" textLength="82" lengthAdjust="spacingAndGlyphs"><tspan font-style="italic">x</tspan>(Sr)=0</text>
 <text x="516" y="1291" textLength="113" lengthAdjust="spacingAndGlyphs"><tspan font-style="italic">x</tspan>(Sr) &lt; 0.5</text>
 <text x="781" y="1291" textLength="114" lengthAdjust="spacingAndGlyphs"><tspan font-style="italic">x</tspan>(Sr) &gt; 0.5</text>
 <text x="1098" y="1291" textLength="114" lengthAdjust="spacingAndGlyphs"><tspan font-style="italic">x</tspan>(Sr) &gt; 2.5</text>
</g>

<g font-size="21" font-weight="bold" text-anchor="middle">
 <text x="361" y="1333" textLength="208" lengthAdjust="spacingAndGlyphs">Ce<tspan font-size="13" dy="-7">3+</tspan><tspan dy="7">→</tspan><tspan font-style="italic">M</tspan>(3) and <tspan font-style="italic">M</tspan>(5)</text>
 <text x="361" y="1360" textLength="97" lengthAdjust="spacingAndGlyphs">NE &gt; CFS</text>
 <text x="659" y="1333" textLength="112" lengthAdjust="spacingAndGlyphs">Ce<tspan font-size="13" dy="-7">3+</tspan><tspan dy="7">→</tspan><tspan font-style="italic">M</tspan>(5)</text>
 <text x="659" y="1360" textLength="97" lengthAdjust="spacingAndGlyphs">CFS &gt; NE</text>
 <text x="954" y="1352" textLength="158" lengthAdjust="spacingAndGlyphs">Phase transition</text>
</g>
</svg>
</body></html>
